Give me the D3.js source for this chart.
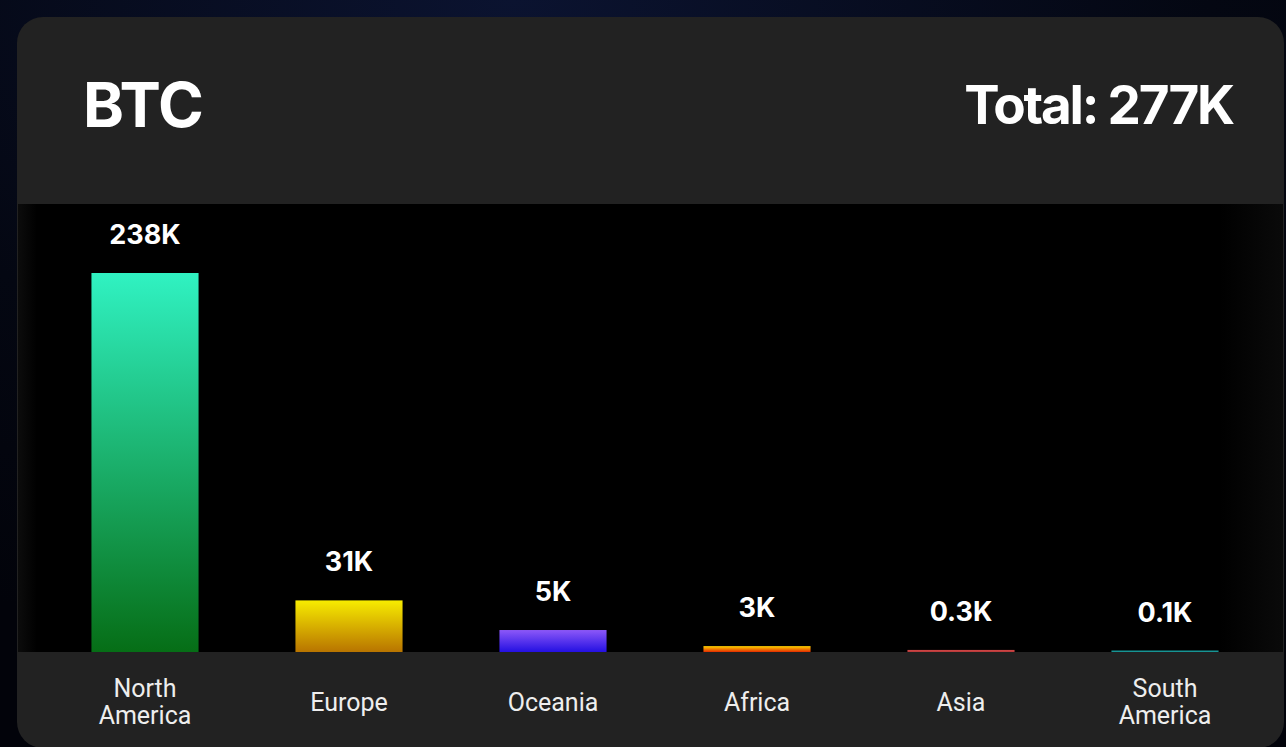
<!DOCTYPE html>
<html>
<head>
<meta charset="utf-8">
<script src="https://cdn.jsdelivr.net/npm/d3@7"></script>
<style>
  html, body { margin: 0; padding: 0; background: #03050c; overflow: hidden; }
  svg { display: block; }
</style>
</head>
<body>
<svg id="chart" width="1286" height="747"></svg>
<script>
// ---- data ----
const title = "BTC";
const totalLabel = "Total: 277K";
const categories = ["North America", "Europe", "Oceania", "Africa", "Asia", "South America"];
const values = [238, 32.4, 13.8, 3.7, 1.3, 0.9];          // bar heights (K)
const valueLabels = ["238K", "31K", "5K", "3K", "0.3K", "0.1K"];
const gradTop = ["#30f2c2", "#f7ec00", "#8c58f8", "#ffd400", "#d04848", "#1aa6a6"];
const gradBottom = ["#066e16", "#b87400", "#2410e2", "#e42a00", "#b83838", "#168a8a"];

const svg = d3.select("#chart");
const W = 1286, H = 747;
const defs = svg.append("defs");

// background
const bg = defs.append("radialGradient").attr("id", "bg").attr("cx", "40%").attr("cy", "0%").attr("r", "90%");
bg.append("stop").attr("offset", "0%").attr("stop-color", "#0b1330");
bg.append("stop").attr("offset", "60%").attr("stop-color", "#040712");
bg.append("stop").attr("offset", "100%").attr("stop-color", "#02030a");
svg.append("rect").attr("width", W).attr("height", H).attr("fill", "url(#bg)");

// card
const card = { x: 17, y: 17, w: 1267, h: 731 };
svg.append("rect").attr("x", card.x).attr("y", card.y).attr("width", card.w).attr("height", card.h)
  .attr("rx", 26).attr("fill", "#222222");

const plotTop = 204, plotBottom = 652;
const plotGrad = defs.append("linearGradient").attr("id", "plotbg").attr("x1", "0").attr("x2", "1");
plotGrad.append("stop").attr("offset", "0%").attr("stop-color", "#0c0c0c");
plotGrad.append("stop").attr("offset", "1.5%").attr("stop-color", "#000");
plotGrad.append("stop").attr("offset", "95%").attr("stop-color", "#000");
plotGrad.append("stop").attr("offset", "100%").attr("stop-color", "#0a0a0a");
svg.append("rect").attr("x", 18).attr("y", plotTop).attr("width", 1265).attr("height", plotBottom - plotTop)
  .attr("fill", "url(#plotbg)");

// titles
svg.append("text").attr("x", 83).attr("y", 127).text(title)
  .attr("font-family", "Inter, 'Noto Sans', sans-serif").attr("font-weight", 700)
  .attr("font-size", 62).attr("letter-spacing", -1).attr("fill", "#fff");
svg.append("text").attr("x", 1233).attr("y", 124).attr("text-anchor", "end").text(totalLabel)
  .attr("font-family", "Inter, 'Noto Sans', sans-serif").attr("font-weight", 700)
  .attr("font-size", 53).attr("letter-spacing", -2.2).attr("fill", "#fff");

// scales
const x = d3.scaleBand().domain(categories).range([43, 1267]).paddingInner(0.475).paddingOuter(0.2375);
const y = d3.scaleLinear().domain([0, 238]).range([plotBottom, 273]);

const data = categories.map((c, i) => ({ c, v: values[i], label: valueLabels[i], i }));

data.forEach(d => {
  const g = defs.append("linearGradient").attr("id", "g" + d.i).attr("x1", 0).attr("x2", 0).attr("y1", 0).attr("y2", 1);
  g.append("stop").attr("offset", "0%").attr("stop-color", gradTop[d.i]);
  g.append("stop").attr("offset", "100%").attr("stop-color", gradBottom[d.i]);
});

svg.append("g").selectAll("rect").data(data).join("rect")
  .attr("x", d => x(d.c))
  .attr("y", d => y(d.v))
  .attr("width", x.bandwidth())
  .attr("height", d => y(0) - y(d.v))
  .attr("fill", d => `url(#g${d.i})`);

svg.append("g").selectAll("text").data(data).join("text")
  .attr("x", d => x(d.c) + x.bandwidth() / 2)
  .attr("y", d => y(d.v) - 29)
  .attr("text-anchor", "middle")
  .attr("font-family", "Inter, 'Noto Sans', sans-serif").attr("font-weight", 700)
  .attr("font-size", 27).attr("fill", "#fff")
  .text(d => d.label);

// category labels
const catG = svg.append("g").selectAll("text").data(data).join("text")
  .attr("text-anchor", "middle")
  .attr("font-family", "Roboto, 'Noto Sans', sans-serif").attr("font-weight", 400)
  .attr("font-size", 25).attr("fill", "#eeeeee");
catG.each(function(d) {
  const words = d.c.split(" ");
  const t = d3.select(this);
  const cx = x(d.c) + x.bandwidth() / 2;
  if (words.length === 1) {
    t.append("tspan").attr("x", cx).attr("y", 711).text(words[0]);
  } else {
    t.append("tspan").attr("x", cx).attr("y", 697).text(words[0]);
    t.append("tspan").attr("x", cx).attr("y", 724).text(words.slice(1).join(" "));
  }
});
</script>
</body>
</html>
